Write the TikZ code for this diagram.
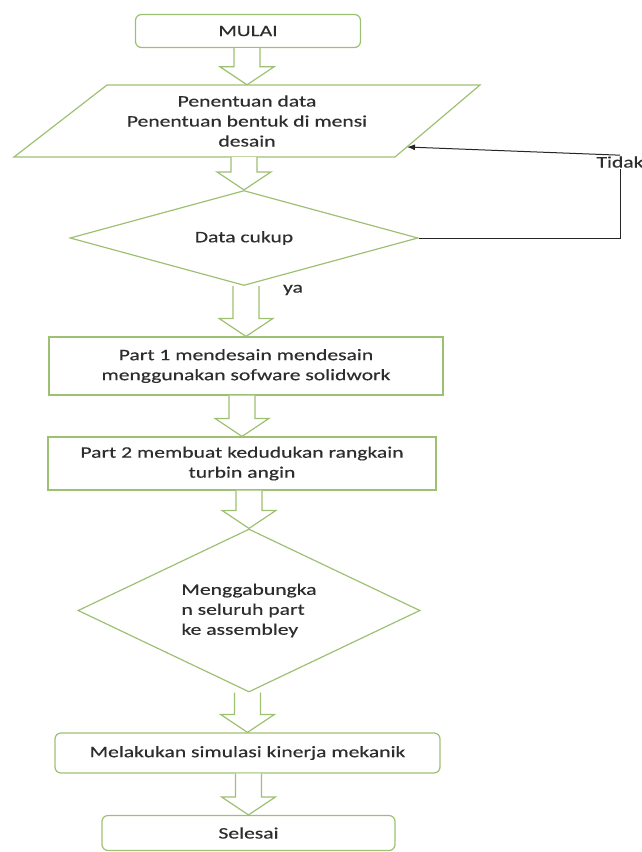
\documentclass[tikz,border=0pt]{standalone}
\usepackage{fontspec}
\setmainfont{Carlito}[FakeStretch=1.35,FakeBold=0.4]
\usetikzlibrary{shapes.geometric,arrows.meta,calc}
\definecolor{boxgreen}{RGB}{158,192,115}
\definecolor{txtgray}{RGB}{45,45,45}
\newcommand{\hollowarrow}[2]{%
  \path[draw=boxgreen,fill=white,line width=1.2pt]
    ($(#1.south -| #2.north)+(-13,0)$) -- ($(#2.north)+(-13,-18)$) -- ($(#2.north)+(-27,-18)$)
    -- (#2.north) -- ($(#2.north)+(27,-18)$) -- ($(#2.north)+(13,-18)$)
    -- ($(#1.south -| #2.north)+(13,0)$);}
\begin{document}
\begin{tikzpicture}[x=1pt,y=-1pt,
  every node/.style={text=txtgray,font=\fontsize{16}{20}\selectfont},
  terminal/.style={draw=boxgreen,line width=1.2pt,rounded corners=6pt,inner sep=0pt},
  process/.style={draw=boxgreen,line width=1.2pt,inner sep=0pt,align=center},
  decision/.style={draw=boxgreen,line width=1.2pt,diamond,inner sep=0pt},
  flowline/.style={draw=black!85,line width=1pt}]
\useasboundingbox (0,0) rectangle (642,852);

\node[terminal,minimum width=225pt,minimum height=33pt] (mulai) at (248,31) {MULAI};
\node[align=center,minimum height=72pt,inner sep=0pt] (data) at (247,121) {Penentuan data\\Penentuan bentuk di mensi\\desain};
\draw[draw=boxgreen,line width=1.2pt] (14,157) -- (395,157) -- (480,85) -- (107,85) -- cycle;
\node[decision,aspect=3.66,minimum width=348pt,minimum height=95pt] (cukup) at (244,238) {Data cukup};
\node[process,minimum width=394pt,minimum height=58pt] (part1) at (246,366) {Part 1 mendesain mendesain\\menggunakan sofware solidwork};
\node[process,minimum width=388pt,minimum height=53pt] (part2) at (242,463.5) {Part 2 membuat kedudukan rangkain\\turbin angin};
\node[decision,aspect=2.1,minimum width=342pt,minimum height=163pt,align=left] (gabung) at (249,610.5) {Menggabungka\\n seluruh part\\ke assembley};
\node[terminal,minimum width=385pt,minimum height=40pt] (simulasi) at (247.5,753) {Melakukan simulasi kinerja mekanik};
\node[terminal,minimum width=293pt,minimum height=35pt] (selesai) at (248.5,833) {Selesai};

\node (ya) at (293,290) {ya};
\node[inner sep=1pt] (tidak) at (620,162) {Tidak};
\coordinate (back) at (407,147);

\hollowarrow{mulai}{data}
\hollowarrow{data}{cukup}
\hollowarrow{cukup}{part1}
\hollowarrow{part1}{part2}
\hollowarrow{part2}{gabung}
\hollowarrow{gabung}{simulasi}
\hollowarrow{simulasi}{selesai}

\path[flowline] (cukup.east) -| (tidak.south);
\path[flowline,-{Latex[length=8pt,width=6pt]}] (tidak.north) -- (back);
\end{tikzpicture}
\end{document}
